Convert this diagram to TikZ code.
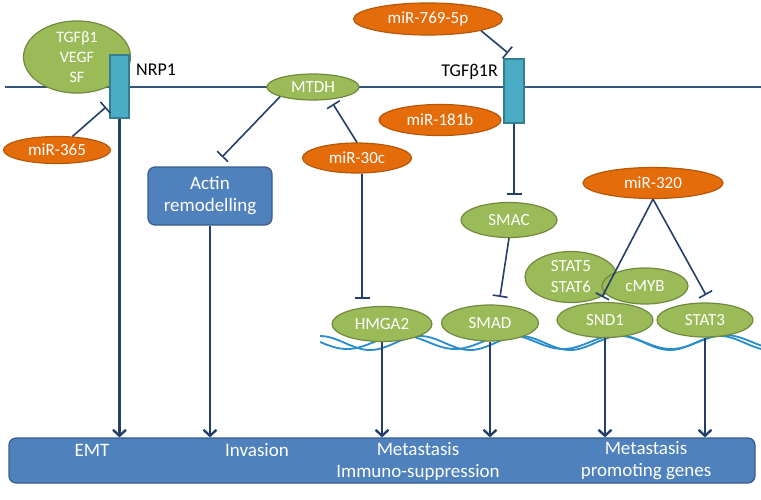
\documentclass[tikz,border=0pt]{standalone}
\usepackage{fontspec}
\setmainfont{Carlito}
\usetikzlibrary{shapes.geometric}
\usetikzlibrary{arrows.meta}
\usetikzlibrary{calc}

\definecolor{leaf}{RGB}{155,187,89}
\definecolor{leafdark}{RGB}{113,137,63}
\definecolor{mirfill}{RGB}{228,108,10}
\definecolor{mirdark}{RGB}{182,87,8}
\definecolor{boxfill}{RGB}{79,129,189}
\definecolor{boxdark}{RGB}{56,93,138}
\definecolor{rcpt}{RGB}{75,172,198}
\definecolor{rcptdark}{RGB}{53,125,145}
\definecolor{wire}{RGB}{36,64,105}
\definecolor{membr}{RGB}{52,84,120}
\definecolor{dna}{RGB}{40,140,205}

\tikzset{
  gene/.style={ellipse, draw=leafdark, fill=leaf, line width=1.2pt, text=white, inner sep=0pt, font=\fontsize{17}{21}\selectfont},
  mir/.style={ellipse, draw=mirdark, fill=mirfill, line width=1.2pt, text=white, inner sep=0pt, font=\fontsize{17}{21}\selectfont},
  rcptbox/.style={rectangle, draw=rcptdark, fill=rcpt, line width=1.2pt, inner sep=0pt, minimum width=19pt},
  bluebox/.style={rectangle, rounded corners=7pt, draw=boxdark, fill=boxfill, line width=1.2pt, text=white, inner sep=0pt, align=center, font=\fontsize{19}{22}\selectfont},
  outtext/.style={text=white, align=center, inner sep=0pt, font=\fontsize{19}{22}\selectfont},
  inh/.style={draw=wire, line width=1.6pt, -{Bar[width=15pt]}},
  act/.style={draw=wire, line width=2.4pt, -{Straight Barb[length=6pt,width=13pt]}}
}

\begin{document}
\begin{tikzpicture}[x=1pt,y=-1pt]
\useasboundingbox (0,0) rectangle (761,499);
\draw[membr, line width=1.6pt] (5,87) -- (761,87);

\node[gene, minimum width=107pt, minimum height=63pt, align=center, font=\fontsize{16}{20}\selectfont] (ligand) at (77,57) {TGFβ1\\VEGF\\SF};
\node[rcptbox, minimum height=63pt] (nrp1) at (119.5,86.5) {};
\node[anchor=west, inner sep=0pt, font=\fontsize{18}{20}\selectfont] (nrp1lbl) at (136,70) {NRP1};
\node[mir, minimum width=107pt, minimum height=27pt] (mir365) at (57,150) {miR-365};

\node[gene, minimum width=92pt, minimum height=26pt] (mtdh) at (313,87) {MTDH};
\node[bluebox, minimum width=124pt, minimum height=58pt] (actin) at (210,196) {Actin\\remodelling};
\node[mir, minimum width=109pt, minimum height=30pt] (mir30c) at (357,158) {miR-30c};

\node[mir, minimum width=149pt, minimum height=32pt] (mir769) at (428,19) {miR-769-5p};
\node[rcptbox, minimum width=20pt, minimum height=64pt] (tgfr) at (514,91) {};
\node[anchor=east, inner sep=0pt, font=\fontsize{18}{20}\selectfont] (tgfrlbl) at (498,72) {TGFβ1R};
\node[mir, minimum width=122pt, minimum height=31pt] (mir181b) at (440,120) {miR-181b};
\node[gene, minimum width=96pt, minimum height=35pt] (smac) at (509,220) {SMAC};

\begin{scope}
\clip (320,320) rectangle (761,360);
\draw[dna, line width=1.8pt] (320,342)
  \foreach \k in {1,...,5} { sin ++(27,7) cos ++(27,-7) sin ++(27,-7) cos ++(27,7) };
\draw[dna, line width=1.8pt] (320,336)
  \foreach \k in {1,...,5} { cos ++(25,7) sin ++(25,7) cos ++(25,-7) sin ++(25,-7) };
\end{scope}

\node[mir, minimum width=140pt, minimum height=31pt] (mir320) at (653,183) {miR-320};
\node[gene, minimum width=92pt, minimum height=51pt, align=center] (stat56) at (571,277) {STAT5\\STAT6};
\node[gene, minimum width=86pt, minimum height=36pt] (cmyb) at (645,286) {cMYB};

\node[gene, minimum width=100pt, minimum height=35pt] (hmga2) at (382,324) {HMGA2};
\node[gene, minimum width=97pt, minimum height=36pt] (smad) at (490,323) {SMAD};
\node[gene, minimum width=96pt, minimum height=35pt] (snd1) at (605,320) {SND1};
\node[gene, minimum width=96pt, minimum height=34pt] (stat3) at (705,320) {STAT3};

\node[bluebox, minimum width=746pt, minimum height=45pt] (outcome) at (382,460.5) {};
\node[outtext] (emt) at (92,450) {EMT};
\node[outtext] (invasion) at (257,450) {Invasion};
\node[outtext] (metaimm) at (418,461) {Metastasis\\Immuno-suppression};
\node[outtext] (metagenes) at (646,461) {Metastasis\\promoting genes};

\coordinate (nrp1side) at (106,107);
\coordinate (actintop) at (222,157);
\coordinate (mtdhfoot) at (333,104);
\coordinate (hmgtop) at (362,299);
\coordinate (tgftop) at (508,53);
\coordinate (smactop) at (514,195);
\coordinate (smadtop) at (500,297);
\coordinate (snd1top) at (602,297);
\coordinate (stat3top) at (706,295);

\draw[inh] (mir365) -- (nrp1side);
\draw[inh] (mtdh.south west) -- (actintop);
\draw[inh] (mir30c.north) -- (mtdhfoot);
\draw[inh] (mir30c.south -| hmgtop) -- (hmgtop);
\draw[inh] (mir769.south east) -- (tgftop);
\draw[inh] (tgfr.south) -- (smactop);
\draw[inh] (smac.south) -- (smadtop);
\draw[inh] (mir320.south) -- (snd1top);
\draw[inh] (mir320.south) -- (stat3top);

\foreach \src in {nrp1,actin,hmga2,smad,snd1,stat3}
  \draw[act] (\src.south) -- (\src.south |- outcome.north);
\end{tikzpicture}
\end{document}
